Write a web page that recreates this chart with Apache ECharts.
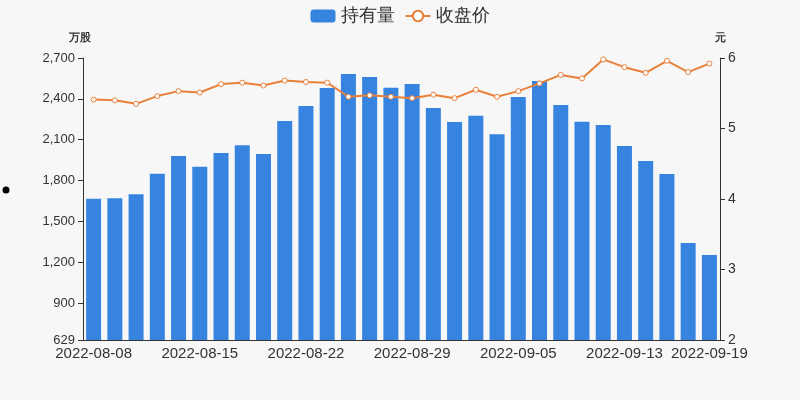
<!DOCTYPE html>
<html>
<head>
<meta charset="utf-8">
<script src="https://cdn.jsdelivr.net/npm/echarts@6/dist/echarts.min.js"></script>
<style>
html,body{margin:0;padding:0;background:#f7f7f7;}
#chart{width:800px;height:400px;}
</style>
</head>
<body>
<div id="chart"></div>
<script>
var categories = ['2022-08-08','2022-08-09','2022-08-10','2022-08-11','2022-08-12',
  '2022-08-15','2022-08-16','2022-08-17','2022-08-18','2022-08-19',
  '2022-08-22','2022-08-23','2022-08-24','2022-08-25','2022-08-26',
  '2022-08-29','2022-08-30','2022-08-31','2022-09-01','2022-09-02',
  '2022-09-05','2022-09-06','2022-09-07','2022-09-08','2022-09-09',
  '2022-09-13','2022-09-14','2022-09-15','2022-09-16','2022-09-19'];
var holdings = [1666,1670,1700,1850,1980,1902,2002,2060,1995,2237,
  2347,2480,2583,2560,2482,2509,2333,2230,2275,2140,
  2413,2531,2355,2232,2208,2054,1944,1848,1341,1253];
var closePrice = [5.41,5.40,5.35,5.46,5.53,5.51,5.63,5.65,5.61,5.68,
  5.66,5.65,5.45,5.47,5.45,5.43,5.48,5.43,5.55,5.45,
  5.53,5.64,5.76,5.71,5.98,5.87,5.79,5.96,5.80,5.92];
var leftTickValues = [629,900,1200,1500,1800,2100,2400,2700];
var rightTickValues = [2,3,4,5,6];

var chart = echarts.init(document.getElementById('chart'));
var axisColor = '#333';
function showIdx(i){return i%5===0||i===categories.length-1;}
chart.setOption({
  backgroundColor:'#f7f7f7',
  animation:false,
  legend:{
    top:2, left:'center',
    itemWidth:25, itemHeight:13, itemGap:10,
    textStyle:{fontSize:18, color:'#333'},
    data:[{name:'持有量', icon:'roundRect'}, {name:'收盘价'}]
  },
  grid:{left:83, right:80, top:58, bottom:60},
  xAxis:{
    type:'category',
    data:categories,
    axisLine:{lineStyle:{color:axisColor}},
    axisTick:{interval:showIdx},
    axisLabel:{color:'#333', fontSize:15, margin:6, interval:showIdx}
  },
  yAxis:[{
    type:'value', name:'万股',
    min:leftTickValues[0], max:leftTickValues[leftTickValues.length-1],
    nameTextStyle:{fontWeight:'bold', fontSize:11, color:'#333', padding:[0,6,0,0]},
    nameGap:15,
    axisLine:{show:true, lineStyle:{color:axisColor}},
    axisTick:{show:true, customValues:leftTickValues},
    splitLine:{show:false},
    axisLabel:{color:'#333', fontSize:13, customValues:leftTickValues,
      formatter:function(v){return v.toLocaleString('en-US');}}
  },{
    type:'value', name:'元',
    min:rightTickValues[0], max:rightTickValues[rightTickValues.length-1],
    nameTextStyle:{fontWeight:'bold', fontSize:11, color:'#333'},
    nameGap:15,
    axisLine:{show:true, lineStyle:{color:axisColor}},
    axisTick:{show:true, customValues:rightTickValues},
    splitLine:{show:false},
    axisLabel:{color:'#333', fontSize:14, customValues:rightTickValues}
  }],
  series:[{
    name:'持有量', type:'bar', data:holdings, yAxisIndex:0,
    barWidth:15,
    itemStyle:{color:'#3683e0'}
  },{
    name:'收盘价', type:'line', data:closePrice, yAxisIndex:1,
    symbol:'circle', symbolSize:5, showAllSymbol:true,
    lineStyle:{color:'#e8803a', width:2},
    itemStyle:{color:'#fff', borderColor:'#e8803a', borderWidth:1}
  }],
  graphic:[{type:'circle', shape:{cx:6, cy:190, r:3.5}, style:{fill:'#000'}}]
});
</script>
</body>
</html>
